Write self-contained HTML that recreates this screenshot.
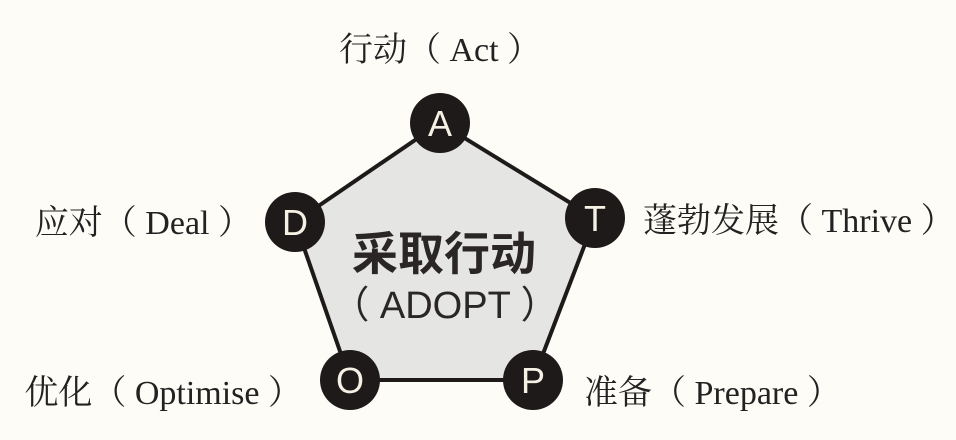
<!DOCTYPE html>
<html><head><meta charset="utf-8"><style>
html,body{margin:0;padding:0;background:#fdfcf6;}
svg{display:block}
.l{font-family:"Liberation Serif","Noto Serif CJK SC",serif;font-size:34px;fill:#222;}
.c{font-family:"Liberation Sans","Noto Sans CJK SC",sans-serif;font-size:36px;fill:#f5f1e4;text-anchor:middle;}
</style></head><body>
<svg width="956" height="440" viewBox="0 0 956 440">
<polygon points="440,123 595,218 533,380 350,380 295,222" fill="#e5e5e3" stroke="#1e1a1a" stroke-width="4" stroke-linejoin="round"/>
<g fill="#1e1a1a">
<circle cx="440" cy="123" r="30"/><circle cx="595" cy="218" r="30"/><circle cx="533" cy="380" r="30"/><circle cx="350" cy="380" r="30"/><circle cx="295" cy="222" r="30"/>
</g>
<text class="c" x="440" y="136">A</text>
<text class="c" x="595" y="231">T</text>
<text class="c" x="533" y="393">P</text>
<text class="c" x="350" y="393">O</text>
<text class="c" x="295" y="235">D</text>
<text x="444" y="270" text-anchor="middle" font-family="'Noto Sans CJK SC',sans-serif" font-weight="bold" font-size="46" fill="#2a2626">采取行动</text>
<text x="445" y="318" text-anchor="middle" font-family="'Liberation Sans','Noto Sans CJK SC',sans-serif" font-size="38" fill="#2a2626">（ ADOPT ）</text>
<text class="l" x="440" y="61" text-anchor="middle">行动（ Act ）</text>
<text class="l" x="252" y="234" text-anchor="end">应对（ Deal ）</text>
<text class="l" x="643" y="232">蓬勃发展（ Thrive ）</text>
<text class="l" x="302" y="404" text-anchor="end">优化（ Optimise ）</text>
<text class="l" x="584" y="404">准备（ Prepare ）</text>
</svg>
</body></html>
